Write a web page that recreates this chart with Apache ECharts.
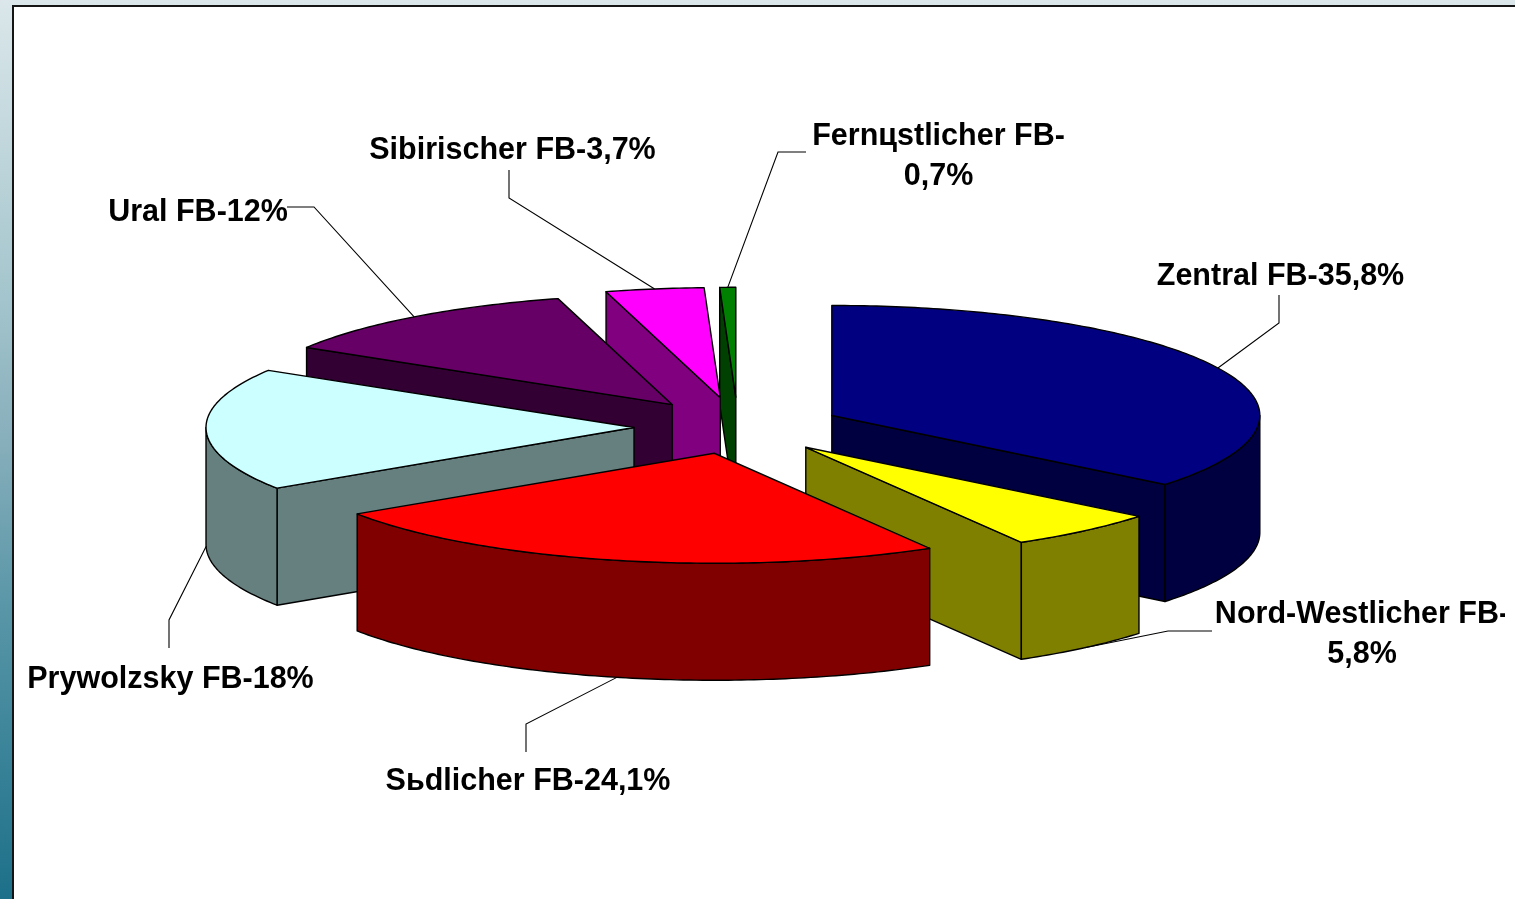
<!DOCTYPE html>
<html><head><meta charset="utf-8">
<style>html,body{margin:0;padding:0;background:#fff}#c{width:1515px;height:899px}</style>
<script src="https://cdn.jsdelivr.net/npm/echarts@6/dist/echarts.min.js"></script>
</head><body><div id="c"></div>
<script>
const categories = ['Zentral FB','Nord-Westlicher FB','Sьdlicher FB','Prywolzsky FB','Ural FB','Sibirischer FB','Fernцstlicher FB'];
const values = [35.8, 5.8, 24.1, 18, 12, 3.7, 0.7];
const valueTexts = ['35,8%','5,8%','24,1%','18%','12%','3,7%','0,7%'];
const topColors = ['#000080','#ffff00','#ff0000','#ccffff','#660066','#ff00ff','#008000'];
const sideColors = ['#000040','#808000','#800000','#668080','#330033','#800080','#004000'];

// layout of the fake-3D pie
const pie = {cx:738, cy:427, rx:428, ry:110, depth:117};
const explodeBySlice = [0.243,0.243,0.245,0.243,0.255,0.27,0.27];
// label anchor and leader path after the rim point
const labelLayout = [
  {x:1280.5,y:277,path:[[1279,323],[1279,295]]},
  {x:1362,y:635,path:[[1168,631],[1212,631]],clipRight:1505},
  {x:528,y:782,path:[[526,724],[526,752]]},
  {x:170.5,y:680,path:[[169,620],[169,648]]},
  {x:198,y:213,path:[[314,207],[287,207]]},
  {x:512.5,y:151,path:[[509,198],[509,170]]},
  {x:938.5,y:157,path:[[778,152],[806,152]]}
];
const twoLine = [false,true,false,false,false,false,true];
const labelFont = 'bold 30.5px "Liberation Sans", Arial, sans-serif';

const fullCircle = 100;
let acc = 0;
const slices = values.map((v,i)=>{
  const a0 = acc/fullCircle*2*Math.PI; acc += v;
  const a1 = Math.min(acc/fullCircle,1)*2*Math.PI;
  const mid = (a0+a1)/2, e = explodeBySlice[i];
  return {i,a0,a1,mid,ax:pie.cx+e*pie.rx*Math.sin(mid),ay:pie.cy-e*pie.ry*Math.cos(mid)};
});
const rim = (s,t)=>[s.ax+pie.rx*Math.sin(t), s.ay-pie.ry*Math.cos(t)];
function arcPts(s,a,b){
  const n=Math.max(2,Math.ceil(Math.abs(b-a)/0.015)),o=[];
  for(let k=0;k<=n;k++) o.push(rim(s,a+(b-a)*k/n));
  return o;
}
const down = p=>[p[0],p[1]+pie.depth];
const ln = {stroke:'#000',lineWidth:1.4,lineJoin:'round'};
// back-to-front paint order: by apex height
const order = slices.slice().sort((a,b)=>a.ay-b.ay||b.i-a.i).map(s=>s.i);

function renderSlice(params){
  const s = slices[order[params.dataIndex]], c=[];
  const side = sideColors[s.i], top=topColors[s.i];
  const apex=[s.ax,s.ay];
  const wall=(t)=>{const p=rim(s,t);
    c.push({type:'polygon',shape:{points:[apex,p,down(p),down(apex)]},style:{fill:side,...ln}});};
  if(Math.sin(s.a0)<0) wall(s.a0);
  if(Math.sin(s.a1)>0) wall(s.a1);
  const lo=Math.max(s.a0,Math.PI/2), hi=Math.min(s.a1,Math.PI*1.5);
  if(hi>lo){
    const arc=arcPts(s,lo,hi);
    c.push({type:'polygon',shape:{points:arc.concat(arc.slice().reverse().map(down))},style:{fill:side,...ln}});
  }
  c.push({type:'polygon',shape:{points:[apex].concat(arcPts(s,s.a0,s.a1))},style:{fill:top,...ln}});
  return {type:'group',children:c};
}
function renderLabel(params){
  const i=params.dataIndex, l=labelLayout[i], s=slices[i];
  const mp=rim(s,s.mid), front=Math.cos(s.mid)<0 && Math.abs(s.mid-Math.PI)<Math.PI/2;
  const start=front?down(mp):mp;
  const text = twoLine[i]
    ? categories[i]+'-\n'+valueTexts[i]
    : categories[i]+'-'+valueTexts[i];
  const t={type:'text',style:{text,x:l.x,y:l.y,font:labelFont,fill:'#000',align:'center',verticalAlign:'middle',lineHeight:40}};
  if(l.clipRight) t.clipPath={type:'rect',shape:{x:0,y:0,width:l.clipRight,height:899}};
  return {type:'group',children:[
    {type:'polyline',shape:{points:[start].concat(l.path)},style:{fill:null,stroke:'#000',lineWidth:1.1}},
    t
  ]};
}
const chart = echarts.init(document.getElementById('c'),null,{renderer:'canvas'});
chart.setOption({
  animation:false,
  backgroundColor:{type:'linear',x:0,y:0,x2:0,y2:1,colorStops:[
    {offset:0,color:'#dbe7ea'},{offset:0.33,color:'#a4c5cd'},{offset:0.5,color:'#85adba'},{offset:0.67,color:'#5a97a8'},{offset:1,color:'#1c7089'}]},
  graphic:[{type:'rect',z:0,silent:true,shape:{x:13,y:6,width:1520,height:910},style:{fill:'#fff',stroke:'#151515',lineWidth:2}}],
  series:[
    {type:'custom',name:'slices',coordinateSystem:'none',renderItem:renderSlice,clip:false,z:2,
      data:order.map(i=>({name:categories[i],value:values[i]}))},
    {type:'custom',name:'labels',coordinateSystem:'none',renderItem:renderLabel,clip:false,z:3,
      data:categories.map((n,i)=>({name:n,value:values[i]}))}
  ]
});
</script></body></html>
